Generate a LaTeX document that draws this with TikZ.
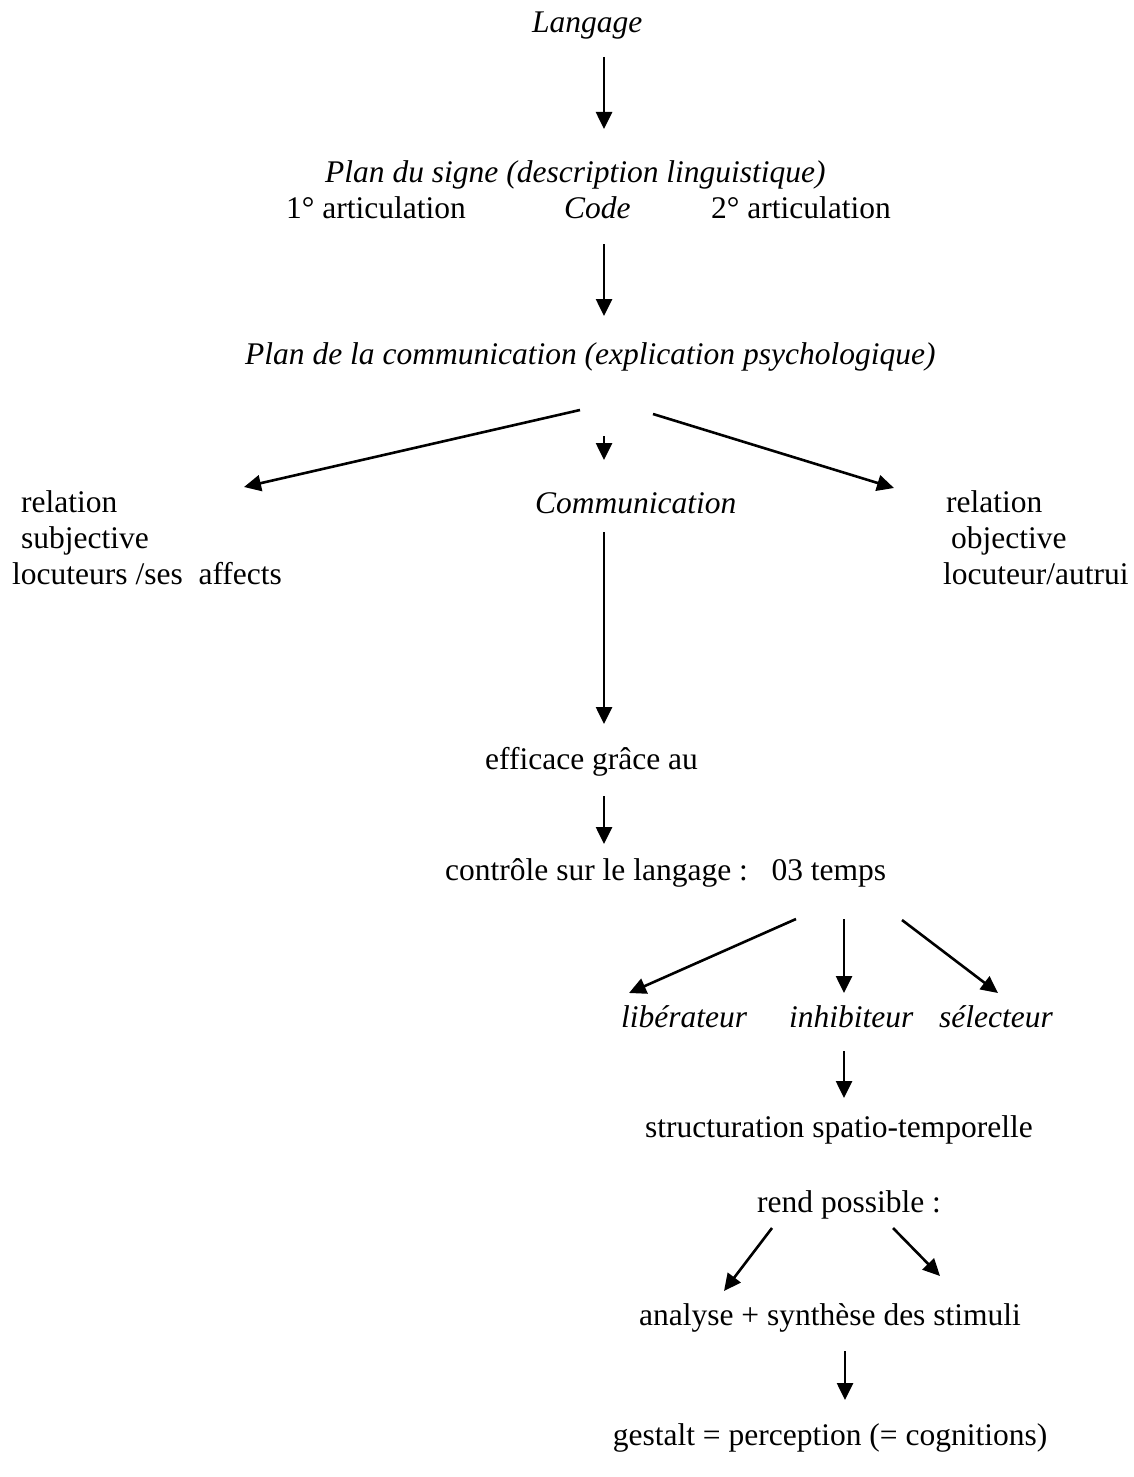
\documentclass[tikz,border=0pt]{standalone}
\usepackage{fontspec}
\setmainfont{Liberation Serif}
\usetikzlibrary{arrows.meta}
\begin{document}
\begin{tikzpicture}[x=1pt,y=-1pt,
  txt/.style={anchor=base west,inner sep=0pt,font=\fontsize{31.5}{36}\selectfont},
  itx/.style={txt,font=\fontsize{31.5}{36}\selectfont\itshape},
  arr/.style={line width=2.6pt,-{Triangle[length=17pt,width=16pt]}}]
\useasboundingbox (0,0) rectangle (1133,1477);
% texts
\node[itx] (langage) at (532,33) {Langage};
\node[itx] (signe) at (325,182) {Plan du signe (description linguistique)};
\node[txt] (art1) at (286,218) {1° articulation};
\node[itx] (code) at (564,218) {Code};
\node[txt] (art2) at (711,218) {2° articulation};
\node[itx] (plancom) at (245,364) {Plan de la communication (explication psychologique)};
\node[txt] (rel1) at (21,512) {relation};
\node[txt] (subj) at (21,548) {subjective};
\node[txt] (loc1) at (12,584) {locuteurs /ses\ \ affects};
\node[itx] (comm) at (535,513) {Communication};
\node[txt] (rel2) at (946,512) {relation};
\node[txt] (obj) at (951,548) {objective};
\node[txt] (loc2) at (943,584) {locuteur/autrui};
\node[txt] (eff) at (485,769) {efficace grâce au};
\node[txt] (ctrl) at (445,880) {contrôle sur le langage :\ \ \ 03 temps};
\node[itx] (lib) at (621,1027) {libérateur};
\node[itx] (inh) at (789,1027) {inhibiteur};
\node[itx] (sel) at (939,1027) {sélecteur};
\node[txt] (struct) at (645,1137) {structuration spatio-temporelle};
\node[txt] (rend) at (757,1212) {rend possible :};
\node[txt,anchor=base] (anal) at (830,1325) {analyse + synthèse des stimuli};
\node[txt,anchor=base] (gest) at (830,1445) {gestalt = perception (= cognitions)};
% connector end points
\coordinate (langage-o) at (604,57);  \coordinate (signe-i) at (604,129);
\coordinate (code-o) at (604,244);    \coordinate (plancom-i) at (604,316);
\coordinate (plancom-l) at (580,410); \coordinate (loc1-i) at (244,487);
\coordinate (plancom-m) at (604,436); \coordinate (comm-i) at (604,460);
\coordinate (plancom-r) at (653,414); \coordinate (rel2-i) at (894,488);
\coordinate (comm-o) at (604,532);    \coordinate (eff-i) at (604,724);
\coordinate (eff-o) at (604,796);     \coordinate (ctrl-i) at (604,844);
\coordinate (ctrl-l) at (796,919);    \coordinate (lib-i) at (629,993);
\coordinate (ctrl-m) at (844,919);    \coordinate (inh-i) at (844,993);
\coordinate (ctrl-r) at (902,920);    \coordinate (sel-i) at (998,993);
\coordinate (inh-o) at (844,1051);    \coordinate (struct-i) at (844,1098);
\coordinate (rend-l) at (772,1228);   \coordinate (anal-l) at (724,1291);
\coordinate (rend-r) at (893,1228);   \coordinate (anal-r) at (940,1276);
\coordinate (anal-o) at (845,1351);   \coordinate (gest-i) at (845,1400);
% connectors
\draw[arr] (langage-o) -- (signe-i);
\draw[arr] (code-o) -- (plancom-i);
\draw[arr] (plancom-l) -- (loc1-i);
\draw[arr] (plancom-m) -- (comm-i);
\draw[arr] (plancom-r) -- (rel2-i);
\draw[arr] (comm-o) -- (eff-i);
\draw[arr] (eff-o) -- (ctrl-i);
\draw[arr] (ctrl-l) -- (lib-i);
\draw[arr] (ctrl-m) -- (inh-i);
\draw[arr] (ctrl-r) -- (sel-i);
\draw[arr] (inh-o) -- (struct-i);
\draw[arr] (rend-l) -- (anal-l);
\draw[arr] (rend-r) -- (anal-r);
\draw[arr] (anal-o) -- (gest-i);
\end{tikzpicture}
\end{document}
